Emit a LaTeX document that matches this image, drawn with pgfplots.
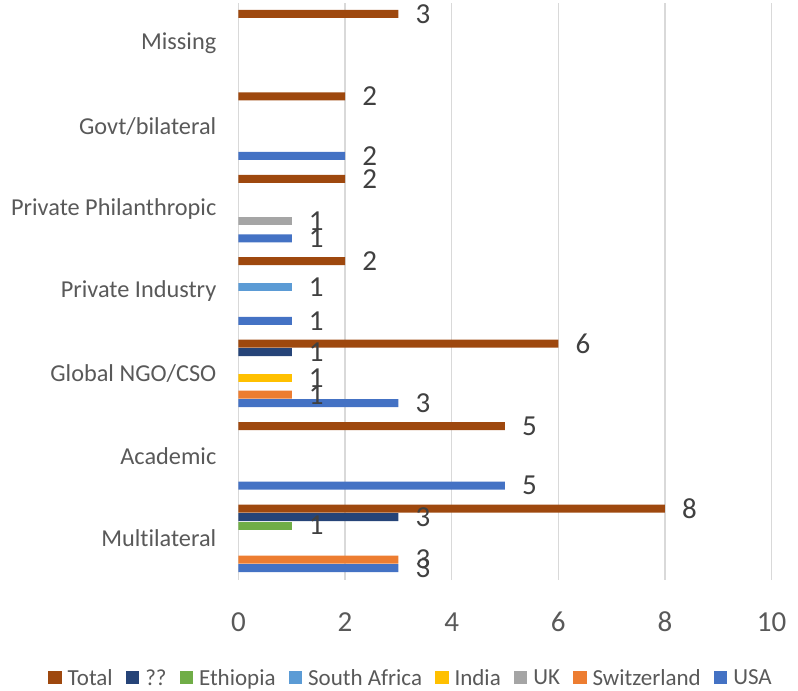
\documentclass[border=0pt]{standalone}
\usepackage{pgfplots}
\pgfplotsset{compat=1.18}
\usepackage{fontspec}
\setmainfont{Carlito}[Ligatures=NoCommon]

\definecolor{cTotal}{HTML}{9E480E}
\definecolor{cUnk}{HTML}{264478}
\definecolor{cEth}{HTML}{70AD47}
\definecolor{cSA}{HTML}{5B9BD5}
\definecolor{cInd}{HTML}{FFC000}
\definecolor{cUK}{HTML}{A5A5A5}
\definecolor{cSwi}{HTML}{ED7D31}
\definecolor{cUSA}{HTML}{4472C4}
\definecolor{txt}{HTML}{595959}
\definecolor{lbl}{HTML}{404040}
\definecolor{gridc}{HTML}{D9D9D9}

% width of one bar slot in axis units
\def\slot{0.1032}

\pgfplotsset{
  sqlegend/.style={legend image code/.code={%
      \fill[##1] (0bp,-6.5bp) rectangle (13.5bp,7bp);}},
}

\begin{document}
\begin{tikzpicture}
\path[use as bounding box] (-238.5bp,-111.5bp) rectangle (559.5bp,579.5bp);
\begin{axis}[
  at={(0,0)}, anchor=south west,
  scale only axis,
  width=533bp, height=577bp,
  xmin=0, xmax=10,
  ymin=-0.5, ymax=6.5,
  xtick={0,2,...,10},
  ytick={0,1,2,3,4,5,6},
  yticklabels={Multilateral,Academic,Global NGO/CSO,Private Industry,Private Philanthropic,Govt/bilateral,Missing},
  xmajorgrids,
  grid style={gridc, line width=1.3bp},
  axis line style={draw=none},
  major tick length=0pt,
  /pgf/number format/assume math mode=true,
  xticklabel style={font=\fontsize{29bp}{30bp}\selectfont, text=txt, anchor=base, yshift=-52bp, inner sep=0pt},
  yticklabel style={font=\fontsize{24.3bp}{26bp}\selectfont, text=txt, anchor=east, inner sep=0pt, xshift=-22bp},
  xbar,
  bar width=0.097,
  point meta=x,
  nodes near coords,
  every node near coord/.append style={font=\fontsize{29bp}{30bp}\selectfont, text=lbl, anchor=west, inner sep=0pt, xshift=17bp},
  legend columns=-1,
  legend style={draw=none, fill=none, at={(0.3218,-0.1707)}, anchor=center,
    font=\fontsize{23bp}{25bp}\selectfont, text=txt,
    nodes={inner xsep=0pt, inner ysep=1pt},
    /tikz/every odd column/.append style={column sep=6bp},
    /tikz/every even column/.append style={column sep=13bp}},
]
\addplot[fill=cTotal, draw=none, bar shift=3.5*\slot, sqlegend] coordinates {(8,0) (5,1) (6,2) (2,3) (2,4) (2,5) (3,6)};
\addlegendentry{Total}
\addplot[fill=cUnk, draw=none, bar shift=2.5*\slot, sqlegend] coordinates {(3,0) (1,2)};
\addlegendentry{??}
\addplot[fill=cEth, draw=none, bar shift=1.5*\slot, sqlegend] coordinates {(1,0)};
\addlegendentry{Ethiopia}
\addplot[fill=cSA, draw=none, bar shift=0.5*\slot, sqlegend] coordinates {(1,3)};
\addlegendentry{South Africa}
\addplot[fill=cInd, draw=none, bar shift=-0.5*\slot, sqlegend] coordinates {(1,2)};
\addlegendentry{India}
\addplot[fill=cUK, draw=none, bar shift=-1.5*\slot, sqlegend] coordinates {(1,4)};
\addlegendentry{UK}
\addplot[fill=cSwi, draw=none, bar shift=-2.5*\slot, sqlegend] coordinates {(3,0) (1,2)};
\addlegendentry{Switzerland}
\addplot[fill=cUSA, draw=none, bar shift=-3.5*\slot, sqlegend] coordinates {(3,0) (5,1) (3,2) (1,3) (1,4) (2,5)};
\addlegendentry{USA}
\end{axis}
\end{tikzpicture}
\end{document}
